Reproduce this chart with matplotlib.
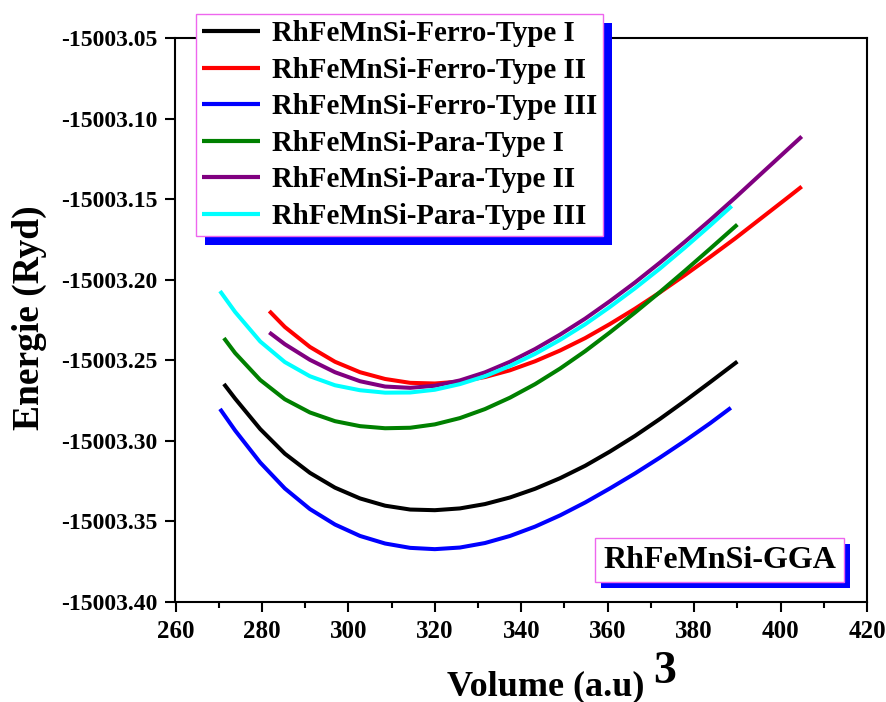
import matplotlib
matplotlib.use('Agg')
import matplotlib.pyplot as plt
from matplotlib.patches import Rectangle
from matplotlib.ticker import MultipleLocator, FormatStrFormatter

plt.rcParams['font.family'] = ['Liberation Serif', 'DejaVu Serif']
plt.rcParams['font.weight'] = 'bold'

labels = ['RhFeMnSi-Ferro-Type I', 'RhFeMnSi-Ferro-Type II', 'RhFeMnSi-Ferro-Type III',
          'RhFeMnSi-Para-Type I', 'RhFeMnSi-Para-Type II', 'RhFeMnSi-Para-Type III']
colors = ['#000000', '#ff0000', '#0000ff', '#008000', '#800080', '#00ffff']

# Ferro Type I (black)
x_ferro1 = [271.2, 273.8, 279.6, 285.3, 291.1, 296.9, 302.7, 308.5, 314.3, 320.0, 325.8,
            331.6, 337.4, 343.2, 349.0, 354.8, 360.5, 366.3, 372.1, 377.9, 383.7, 390.0]
e_ferro1 = [-15003.2647, -15003.2738, -15003.2927, -15003.3080, -15003.3199, -15003.3291,
            -15003.3358, -15003.3403, -15003.3427, -15003.3431, -15003.3420, -15003.3393,
            -15003.3352, -15003.3298, -15003.3232, -15003.3155, -15003.3067, -15003.2970,
            -15003.2864, -15003.2752, -15003.2636, -15003.2508]

# Ferro Type II (red)
x_ferro2 = [281.7, 285.3, 291.1, 296.9, 302.7, 308.5, 314.3, 320.0, 325.8, 331.6, 337.4,
            343.2, 349.0, 354.8, 360.5, 366.3, 372.1, 377.9, 383.7, 389.5, 395.2, 401.0, 404.9]
e_ferro2 = [-15003.2194, -15003.2293, -15003.2417, -15003.2509, -15003.2574, -15003.2616,
            -15003.2640, -15003.2644, -15003.2632, -15003.2604, -15003.2562, -15003.2506,
            -15003.2439, -15003.2362, -15003.2275, -15003.2180, -15003.2078, -15003.1970,
            -15003.1858, -15003.1743, -15003.1624, -15003.1503, -15003.1421]

# Ferro Type III (blue)
x_ferro3 = [270.3, 273.8, 279.6, 285.3, 291.1, 296.9, 302.7, 308.5, 314.3, 320.0, 325.8,
            331.6, 337.4, 343.2, 349.0, 354.8, 360.5, 366.3, 372.1, 377.9, 383.7, 388.5]
e_ferro3 = [-15003.2802, -15003.2936, -15003.3135, -15003.3296, -15003.3424, -15003.3520,
            -15003.3591, -15003.3638, -15003.3665, -15003.3673, -15003.3663, -15003.3635,
            -15003.3591, -15003.3533, -15003.3463, -15003.3383, -15003.3296, -15003.3203,
            -15003.3104, -15003.3000, -15003.2891, -15003.2795]

# Para Type I (green)
x_para1 = [271.2, 273.8, 279.6, 285.3, 291.1, 296.9, 302.7, 308.5, 314.3, 320.0, 325.8,
           331.6, 337.4, 343.2, 349.0, 354.8, 360.5, 366.3, 372.1, 377.9, 383.7, 390.0]
e_para1 = [-15003.2362, -15003.2455, -15003.2622, -15003.2742, -15003.2824, -15003.2878,
           -15003.2909, -15003.2922, -15003.2919, -15003.2898, -15003.2859, -15003.2803,
           -15003.2732, -15003.2648, -15003.2551, -15003.2443, -15003.2327, -15003.2204,
           -15003.2076, -15003.1943, -15003.1807, -15003.1657]

# Para Type II (purple)
x_para2 = [281.7, 285.3, 291.1, 296.9, 302.7, 308.5, 314.3, 320.0, 325.8, 331.6, 337.4,
           343.2, 349.0, 354.8, 360.5, 366.3, 372.1, 377.9, 383.7, 389.5, 395.2, 401.0, 404.9]
e_para2 = [-15003.2327, -15003.2400, -15003.2497, -15003.2574, -15003.2630, -15003.2663,
           -15003.2671, -15003.2658, -15003.2625, -15003.2575, -15003.2509, -15003.2430,
           -15003.2340, -15003.2241, -15003.2133, -15003.2017, -15003.1893, -15003.1763,
           -15003.1629, -15003.1490, -15003.1349, -15003.1206, -15003.1110]

# Para Type III (cyan)
x_para3 = [270.3, 273.8, 279.6, 285.3, 291.1, 296.9, 302.7, 308.5, 314.3, 320.0, 325.8,
           331.6, 337.4, 343.2, 349.0, 354.8, 360.5, 366.3, 372.1, 377.9, 383.7, 388.7]
e_para3 = [-15003.2070, -15003.2200, -15003.2383, -15003.2511, -15003.2599, -15003.2655,
           -15003.2686, -15003.2701, -15003.2700, -15003.2683, -15003.2648, -15003.2599,
           -15003.2535, -15003.2460, -15003.2373, -15003.2276, -15003.2169, -15003.2053,
           -15003.1930, -15003.1799, -15003.1663, -15003.1542]

xs_all = [x_ferro1, x_ferro2, x_ferro3, x_para1, x_para2, x_para3]
es_all = [e_ferro1, e_ferro2, e_ferro3, e_para1, e_para2, e_para3]

W, H = 887, 702
fig = plt.figure(figsize=(W / 100, H / 100), dpi=100)
ax = fig.add_axes([175.5 / W, 1 - 601.8 / H, 691.5 / W, 563.5 / H])

for xs, es, c, lab in zip(xs_all, es_all, colors, labels):
    ax.plot(xs, es, color=c, lw=2.9, label=lab, solid_capstyle='butt',
            solid_joinstyle='round')

ax.set_xlim(260, 420)
ax.set_ylim(-15003.40, -15003.05)
ax.xaxis.set_major_locator(MultipleLocator(20))
ax.xaxis.set_minor_locator(MultipleLocator(10))
ax.yaxis.set_major_locator(MultipleLocator(0.05))
ax.yaxis.set_major_formatter(FormatStrFormatter('%.2f'))

ax.tick_params(axis='both', which='both', direction='out', top=False, right=False, width=1.5)
ax.tick_params(axis='both', which='major', length=7, pad=6)
ax.tick_params(axis='x', which='minor', length=4)
ax.tick_params(axis='x', labelsize=18)
ax.tick_params(axis='y', labelsize=17)
for sp in ax.spines.values():
    sp.set_linewidth(1.5)

fig.text(29 / W, 1 - 318 / H, 'Energie (Ryd)', rotation=90, ha='center', va='center',
         fontsize=27, fontweight='bold')
fig.text(546 / W, 1 - 695 / H, 'Volume (a.u)', ha='center', va='baseline',
         fontsize=26, fontweight='bold')
fig.text(653 / W, 1 - 683 / H, '3', ha='left', va='baseline', fontsize=33, fontweight='bold')

leg = ax.legend(loc='upper left', bbox_to_anchor=(196 / W, 1 - 14 / H),
                bbox_transform=fig.transFigure, borderaxespad=0, frameon=True,
                fancybox=False, framealpha=1, edgecolor='#ee66ee',
                prop={'size': 20.8, 'weight': 'bold'}, handlelength=2.0,
                handletextpad=0.4, labelspacing=0.33, borderpad=0.22)
leg.get_frame().set_linewidth(1.0)
for ln in leg.get_lines():
    ln.set_linewidth(3)

t = ax.text((719.5 - 175.5) / 691.5, (601.8 - 560) / 563.5, 'RhFeMnSi-GGA',
            transform=ax.transAxes, ha='center', va='center', fontsize=23, fontweight='bold',
            zorder=6,
            bbox=dict(boxstyle='square,pad=0.25', fc='white', ec='#ee66ee', lw=1.0))

fig.canvas.draw()
bb = leg.get_window_extent()
sh = Rectangle((bb.x0 + 9, bb.y0 - 9), bb.width, bb.height, transform=None,
               fc='#0000ff', ec='none', zorder=4.9, clip_on=False)
ax.add_artist(sh)
sh.set_clip_on(False)

bb2 = t.get_bbox_patch().get_window_extent()
sh2 = Rectangle((bb2.x0 + 6, bb2.y0 - 6), bb2.width, bb2.height, transform=None,
                fc='#0000ff', ec='none', zorder=5.9, clip_on=False)
ax.add_artist(sh2)
sh2.set_clip_on(False)

fig.savefig('out.png', dpi=100)
